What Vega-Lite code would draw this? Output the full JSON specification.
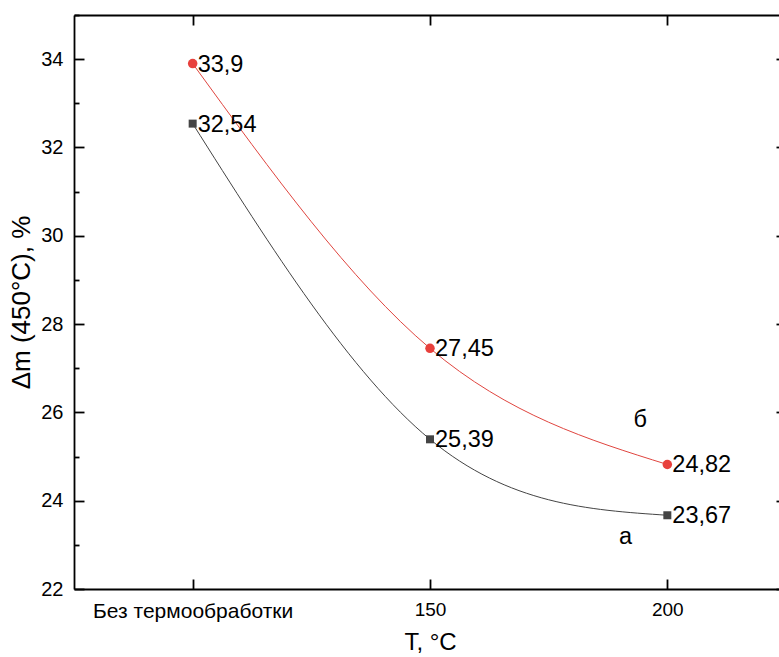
{
  "$schema": "https://vega.github.io/schema/vega-lite/v6.json",
  "width": 712,
  "height": 574,
  "autosize": {"type": "none"},
  "padding": {"left": 74, "top": 15, "right": 0, "bottom": 68},
  "background": "white",
  "config": {
    "view": {"stroke": null},
    "font": "Liberation Sans",
    "axis": {
      "domainColor": "black",
      "domainWidth": 1.8,
      "tickColor": "black",
      "tickWidth": 1.8,
      "grid": false,
      "labelColor": "black",
      "titleColor": "black",
      "labelFont": "Liberation Sans",
      "titleFont": "Liberation Sans",
      "labelFontSize": 19,
      "labelLimit": 0,
      "titleFontSize": 26,
      "titleFontWeight": "normal"
    }
  },
  "datasets": {
    "pts": [
      {"t": 100, "v": 32.54, "s": "а", "lab": "32,54"},
      {"t": 150, "v": 25.39, "s": "а", "lab": "25,39"},
      {"t": 200, "v": 23.67, "s": "а", "lab": "23,67"},
      {"t": 100, "v": 33.9, "s": "б", "lab": "33,9"},
      {"t": 150, "v": 27.45, "s": "б", "lab": "27,45"},
      {"t": 200, "v": 24.82, "s": "б", "lab": "24,82"}
    ],
    "notes": [
      {"t": 194.3, "v": 25.83, "txt": "б"},
      {"t": 191.2, "v": 23.18, "txt": "а"}
    ]
  },
  "layer": [
    {
      "data": {"name": "pts"},
      "mark": {"type": "line", "interpolate": "natural", "strokeWidth": 1},
      "encoding": {
        "x": {
          "field": "t", "type": "quantitative",
          "scale": {"domain": [75, 225], "nice": false, "zero": false},
          "axis": {
            "orient": "bottom",
            "values": [100, 150, 200],
            "labelExpr": "datum.value == 100 ? 'Без термообработки' : datum.label",
            "labelFontSize": {"condition": {"test": "datum.value == 100", "value": 21}, "value": 19},
            "tickSize": -10,
            "labelPadding": 21,
            "title": "T, °C",
            "titleFontSize": 24,
            "titleY": 60,
            "titleBaseline": "alphabetic"
          }
        },
        "y": {
          "field": "v", "type": "quantitative",
          "scale": {"domain": [22, 35], "nice": false, "zero": false},
          "axis": {
            "orient": "left",
            "values": [22, 23, 24, 25, 26, 27, 28, 29, 30, 31, 32, 33, 34, 35],
            "labelExpr": "datum.value % 2 == 0 ? datum.label : ''",
            "labelFontSize": 20,
            "tickSize": {"condition": {"test": "datum.value % 2 == 0", "value": -10}, "value": -5},
            "labelPadding": 21,
            "title": "Δm (450°C), %",
            "titleX": -53,
            "titleBaseline": "middle"
          }
        },
        "color": {
          "field": "s", "type": "nominal",
          "scale": {"domain": ["а", "б"], "range": ["#444444", "#e0453f"]},
          "legend": null
        }
      }
    },
    {
      "data": {"name": "pts"},
      "mark": {"type": "point", "filled": true, "opacity": 1},
      "encoding": {
        "x": {"field": "t", "type": "quantitative", "axis": null},
        "y": {"field": "v", "type": "quantitative", "axis": null},
        "shape": {
          "field": "s", "type": "nominal",
          "scale": {"domain": ["а", "б"], "range": ["square", "circle"]},
          "legend": null
        },
        "size": {
          "field": "s", "type": "nominal",
          "scale": {"domain": ["а", "б"], "range": [64, 90]},
          "legend": null
        },
        "color": {
          "field": "s", "type": "nominal",
          "scale": {"domain": ["а", "б"], "range": ["#454545", "#e8403c"]},
          "legend": null
        }
      }
    },
    {
      "data": {"name": "pts"},
      "mark": {"type": "text", "align": "left", "baseline": "middle", "dx": 5, "dy": 1, "fontSize": 23.5, "color": "black", "font": "Liberation Sans"},
      "encoding": {
        "x": {"field": "t", "type": "quantitative", "axis": null},
        "y": {"field": "v", "type": "quantitative", "axis": null},
        "text": {"field": "lab", "type": "nominal"}
      }
    },
    {
      "data": {"name": "notes"},
      "mark": {"type": "text", "align": "center", "baseline": "middle", "fontSize": 23.5, "color": "black", "font": "Liberation Sans"},
      "encoding": {
        "x": {"field": "t", "type": "quantitative", "axis": null},
        "y": {"field": "v", "type": "quantitative", "axis": null},
        "text": {"field": "txt", "type": "nominal"}
      }
    },
    {
      "data": {"name": "pts"},
      "mark": {"type": "point", "opacity": 0},
      "encoding": {
        "x": {
          "field": "t", "type": "quantitative",
          "axis": {"orient": "top", "values": [100, 150, 200], "labels": false, "tickSize": -10, "title": null}
        },
        "y": {
          "field": "v", "type": "quantitative",
          "axis": {
            "orient": "right",
            "values": [22, 23, 24, 25, 26, 27, 28, 29, 30, 31, 32, 33, 34, 35],
            "labels": false,
            "tickSize": {"condition": {"test": "datum.value % 2 == 0", "value": -10}, "value": -5},
            "title": null
          }
        }
      }
    }
  ],
  "resolve": {
    "axis": {"x": "independent", "y": "independent"},
    "scale": {"color": "independent"}
  }
}
